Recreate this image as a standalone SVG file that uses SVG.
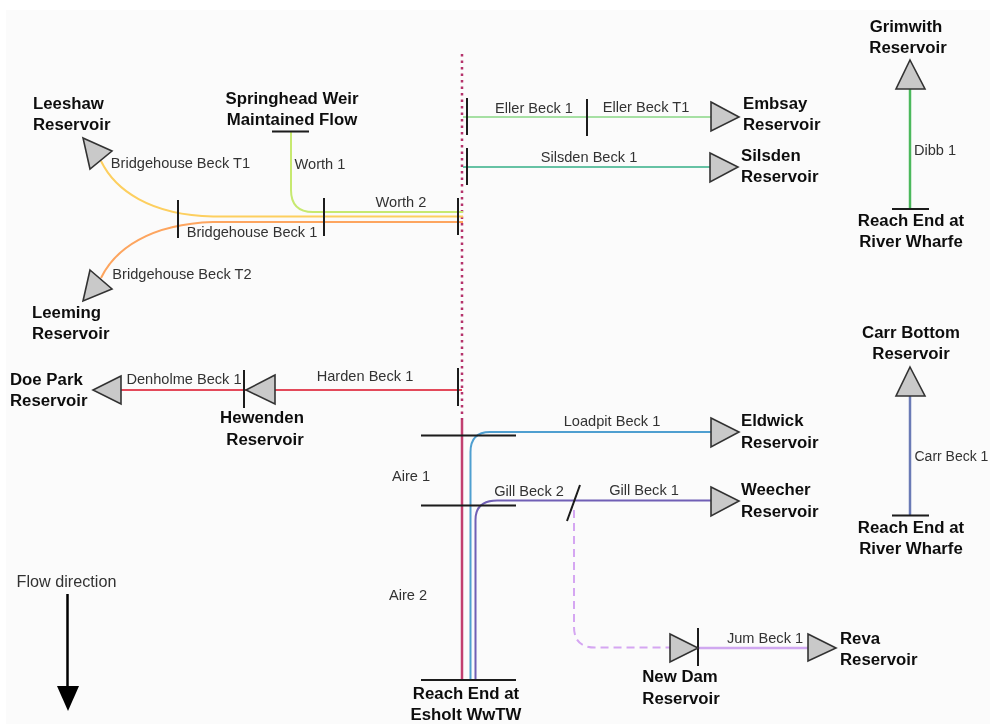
<svg xmlns="http://www.w3.org/2000/svg" width="990" height="724" viewBox="0 0 990 724">
<style>
text{font-family:"Liberation Sans",Arial,sans-serif}
.n{font-size:16.8px;font-weight:bold;fill:#111;text-anchor:middle}
.l{font-size:14.6px;fill:#333;text-anchor:middle}
.s{text-anchor:start}
.tri{fill:#c9c9c9;stroke:#333;stroke-width:1.6;stroke-linejoin:miter}
.tick{stroke:#1a1a1a;stroke-width:2;fill:none}
.r{fill:none;stroke-width:2}
</style>
<defs><filter id="soft" x="0" y="0" width="100%" height="100%"><feGaussianBlur stdDeviation="0.45"/></filter></defs>
<rect width="990" height="724" fill="#fff"/>
<rect x="6" y="10" width="984" height="714" fill="#fbfbfb"/>
<g filter="url(#soft)">
<g id="connectors">
<path class="r" d="M462 420V680" stroke="#c2416f" style="stroke-width:2.500"/>
<path d="M462 54V420" fill="none" stroke="#b5316b" stroke-width="2.500" stroke-dasharray="2.500 4"/>
<path class="r" stroke="#fdcf5f" d="M101 161C115 190 150 215 213 216.500H463"/>
<path class="r" stroke="#fda55f" d="M101 278C115 249 150 224 213 222H463"/>
<path class="r" stroke="#c7e96f" d="M291 132V190Q291 212 313 212H463"/>
<path class="r" stroke="#a6e0a3" d="M463 117H711"/>
<path class="r" stroke="#66c2a4" d="M463 167H710"/>
<path class="r" stroke="#e34a5a" d="M462 390H121"/>
<path class="r" stroke="#4f9fd0" d="M470.500 680V452Q470.500 432 490 432H711"/>
<path class="r" stroke="#6f5fb5" d="M475.500 680V520Q475.500 500.500 497 500.500H711"/>
<path class="r" stroke="#d5a6f2" stroke-dasharray="8 5" d="M574 510V627Q574 647.500 595 647.500H670"/>
<path class="r" stroke="#d0a8f0" style="stroke-width:2.500" d="M698 648H808"/>
<path class="r" stroke="#4cb85c" style="stroke-width:2.500" d="M910 89V209"/>
<path class="r" stroke="#6a7ab5" style="stroke-width:2.500" d="M910 396V515"/>
<path d="M67.500 594V688" stroke="#000" stroke-width="2.500" fill="none"/>
<path d="M57 686H79L68 711Z" fill="#000"/>
<path class="tick" d="M178 200V238M324 198V236M458 198V235M467 98V135M587 99V136M467 148V185M458 368V406M244 370V408M421 435.500H516M421 505.500H516M421 680H516M580 485L567 521M698 628V666M272 131.500H309M892 209H929M892 515.500H929"/>
</g>
<g id="leeshaw"><path class="tri" d="M83 138L112 151L90 169Z"/><text class="n s" x="33" y="109">Leeshaw</text><text class="n s" x="33" y="130">Reservoir</text></g>
<g id="leeming"><path class="tri" d="M90 270L112 289L83 301Z"/><text class="n s" x="32" y="318">Leeming</text><text class="n s" x="32" y="339">Reservoir</text></g>
<g id="springhead"><text class="n" x="292" y="104">Springhead Weir</text><text class="n" x="292" y="125">Maintained Flow</text></g>
<g id="embsay"><path class="tri" d="M711 102L739 117L711 131Z"/><text class="n s" x="743" y="109">Embsay</text><text class="n s" x="743" y="130">Reservoir</text></g>
<g id="silsden"><path class="tri" d="M710 153L738 167L710 182Z"/><text class="n s" x="741" y="161">Silsden</text><text class="n s" x="741" y="182">Reservoir</text></g>
<g id="grimwith"><path class="tri" d="M910 60L925 89H896Z"/><text class="n" x="906" y="32">Grimwith</text><text class="n" x="908" y="53">Reservoir</text></g>
<g id="wharfe1"><text class="n" x="911" y="226">Reach End at</text><text class="n" x="911" y="247">River Wharfe</text></g>
<g id="carr"><path class="tri" d="M910 367L925 396H896Z"/><text class="n" x="911" y="338">Carr Bottom</text><text class="n" x="911" y="359">Reservoir</text></g>
<g id="wharfe2"><text class="n" x="911" y="533">Reach End at</text><text class="n" x="911" y="554">River Wharfe</text></g>
<g id="doepark"><path class="tri" d="M121 376L93 390L121 404Z"/><text class="n s" x="10" y="385">Doe Park</text><text class="n s" x="10" y="406">Reservoir</text></g>
<g id="hewenden"><path class="tri" d="M275 375L246 390L275 404Z"/><text class="n" x="262" y="423">Hewenden</text><text class="n" x="265" y="445">Reservoir</text></g>
<g id="eldwick"><path class="tri" d="M711 418L739 432L711 447Z"/><text class="n s" x="741" y="426">Eldwick</text><text class="n s" x="741" y="448">Reservoir</text></g>
<g id="weecher"><path class="tri" d="M711 487L739 501L711 516Z"/><text class="n s" x="741" y="495">Weecher</text><text class="n s" x="741" y="517">Reservoir</text></g>
<g id="newdam"><path class="tri" d="M670 634L698 648L670 662Z"/><text class="n" x="680" y="682">New Dam</text><text class="n" x="681" y="704">Reservoir</text></g>
<g id="reva"><path class="tri" d="M808 634L836 648L808 661Z"/><text class="n s" x="840" y="644">Reva</text><text class="n s" x="840" y="665">Reservoir</text></g>
<g id="esholt"><text class="n" x="466" y="699">Reach End at</text><text class="n" x="466" y="720">Esholt WwTW</text></g>
<g id="labels">
<text class="l" x="180.500" y="168">Bridgehouse Beck T1</text>
<text class="l" x="182" y="279">Bridgehouse Beck T2</text>
<text class="l" x="252" y="237">Bridgehouse Beck 1</text>
<text class="l" x="320" y="169">Worth 1</text>
<text class="l" x="401" y="207">Worth 2</text>
<text class="l" x="534" y="113">Eller Beck 1</text>
<text class="l" x="646" y="112">Eller Beck T1</text>
<text class="l" x="589" y="162">Silsden Beck 1</text>
<text class="l" x="365" y="381">Harden Beck 1</text>
<text class="l" x="184" y="384">Denholme Beck 1</text>
<text class="l" x="612" y="426">Loadpit Beck 1</text>
<text class="l" x="411" y="481">Aire 1</text>
<text class="l" x="408" y="600">Aire 2</text>
<text class="l" x="529" y="496">Gill Beck 2</text>
<text class="l" x="644" y="495">Gill Beck 1</text>
<text class="l" x="765" y="643">Jum Beck 1</text>
<text class="l" x="935" y="155">Dibb 1</text>
<text class="l s" x="914.500" y="461" style="font-size:14px">Carr Beck 1</text>
<text class="l" x="66.500" y="587" style="font-size:16.200px">Flow direction</text>
</g>
</g>
</svg>
